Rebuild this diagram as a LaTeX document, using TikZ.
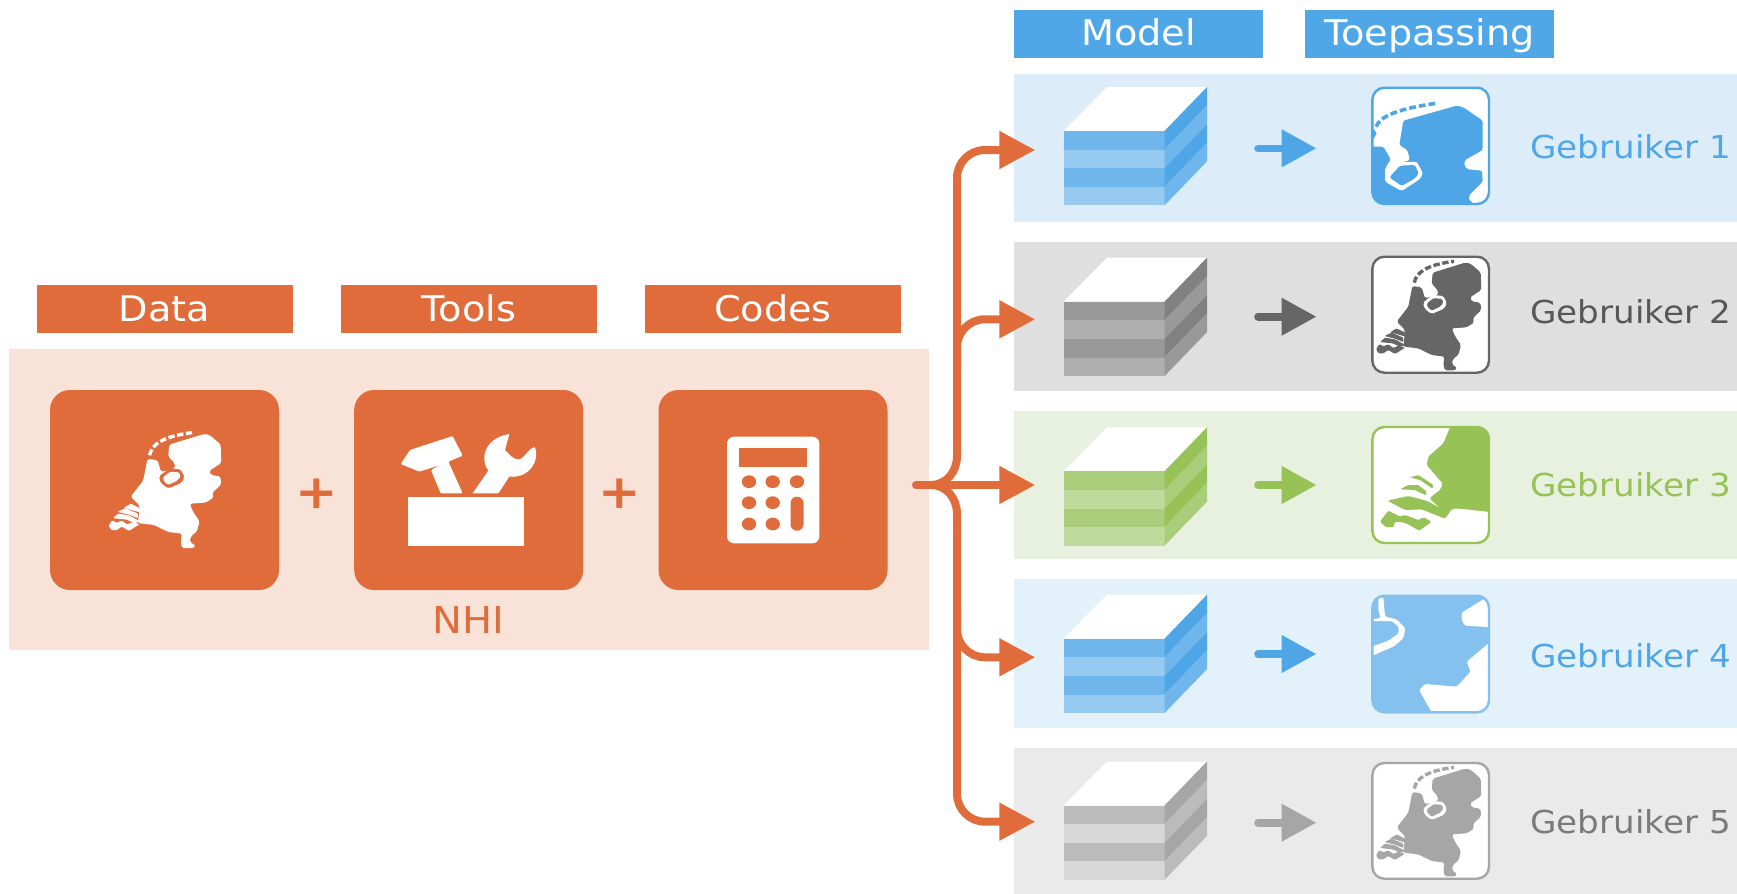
\documentclass[tikz,border=0pt]{standalone}
\usepackage{fontspec}
\setmainfont[FakeStretch=1.08]{DejaVu Sans}
\usetikzlibrary{arrows.meta}
\definecolor{org}{HTML}{E16C3B}
\definecolor{orgl}{HTML}{F9E2D8}
\definecolor{hblue}{HTML}{50A7E8}
\definecolor{rowa}{HTML}{DCEDF9}
\definecolor{rowb}{HTML}{DFDFDF}
\definecolor{rowc}{HTML}{E8F1DF}
\definecolor{rowd}{HTML}{E3F1FA}
\definecolor{rowe}{HTML}{EAEAEA}
\definecolor{bluea}{HTML}{4EA6E7}
\definecolor{blueb}{HTML}{6EB6EB}
\definecolor{bluec}{HTML}{96CAF1}
\definecolor{blued}{HTML}{84C1EF}
\definecolor{graya}{HTML}{666666}
\definecolor{grayb}{HTML}{818181}
\definecolor{grayc}{HTML}{999999}
\definecolor{grayd}{HTML}{AFAFAF}
\definecolor{graye}{HTML}{A6A6A6}
\definecolor{grayf}{HTML}{BBBBBB}
\definecolor{grayg}{HTML}{D7D7D7}
\definecolor{grna}{HTML}{96C256}
\definecolor{grnb}{HTML}{A9CD7B}
\definecolor{grnc}{HTML}{BFDB9B}
\newcommand{\cubeshape}[5]{% front top y, front1, front2, side1, side2
 \begin{scope}[shift={(0,#1)}]
  \fill[white] (1063.5,0) -- (1107,-44) -- (1207,-44) -- (1164.5,0) -- cycle;
  \fill[#2] (1063.5,0) rectangle (1164.5,18.6);
  \fill[#3] (1063.5,18.6) rectangle (1164.5,37.2);
  \fill[#2] (1063.5,37.2) rectangle (1164.5,55.8);
  \fill[#3] (1063.5,55.8) rectangle (1164.5,74.4);
  \fill[#4] (1164.5,0) -- (1207,-44) -- (1207,-25.4) -- (1164.5,18.6) -- cycle;
  \fill[#5] (1164.5,18.6) -- (1207,-25.4) -- (1207,-6.8) -- (1164.5,37.2) -- cycle;
  \fill[#4] (1164.5,37.2) -- (1207,-6.8) -- (1207,11.8) -- (1164.5,55.8) -- cycle;
  \fill[#5] (1164.5,55.8) -- (1207,11.8) -- (1207,30.4) -- (1164.5,74.4) -- cycle;
 \end{scope}}
\newcommand{\nlmap}[2]{% land, water
 \fill[#1,rounded corners=0.9pt] (248,578) -- (345,548) -- (360,550) -- (392,577) -- (394,630) -- (360,652) -- (365,664) -- (391,668) -- (394,690) -- (368,715) -- (373,727) -- (350,742) -- (305,745) -- (316,770) -- (333,795) -- (325,825) -- (310,835) -- (305,852) -- (323,865) -- (315,871) -- (284,871) -- (280,850) -- (284,830) -- (245,825) -- (205,805) -- (160,800) -- (163,775) -- (165,750) -- (140,725) -- (175,680) -- (187,618) -- (215,622) -- (225,655) -- (265,645) -- (262,628) -- (245,612) -- cycle;
 \fill[#2,rounded corners=0.9pt] (219,668) -- (248,645) -- (280,648) -- (291,670) -- (282,686) -- (245,702) -- (224,686) -- cycle;
 \fill[#1,rounded corners=0.6pt] (231,670) -- (250,655) -- (275,656) -- (280,668) -- (270,680) -- (245,692) -- (232,680) -- cycle;
 \draw[#1,line width=1.7pt,dash pattern=on 3.2pt off 1.3pt] (193,608) .. controls (198,580) and (225,555) .. (312,544);
 \fill[#1,rounded corners=0.5pt] (120,757) -- (140,745) -- (166,758) -- (166,770) -- (140,762) -- cycle;
 \fill[#1,rounded corners=0.5pt] (103,768) -- (125,758) -- (160,773) -- (160,786) -- (135,776) -- cycle;
 \fill[#1,rounded corners=0.5pt] (90,786) -- (105,773) -- (135,778) -- (168,796) -- (150,800) -- (128,790) -- cycle;
 \fill[#1,rounded corners=0.5pt] (78,808) -- (88,792) -- (100,799) -- (115,793) -- (130,804) -- (145,797) -- (165,803) -- (135,822) -- (115,810) -- (100,820) -- (86,820) -- cycle;
}
\tikzset{
 every node/.style={inner sep=0pt,outer sep=0pt},
 headerbox/.style={minimum width=128pt,minimum height=24pt,text=white,text height=12.8pt,text depth=0pt,font=\fontsize{17.7}{20}\selectfont},
 rowband/.style={minimum width=361.5pt,anchor=north west},
 iconbox/.style={fill=org,rounded corners=10pt,minimum width=114.5pt,minimum height=100pt},
 userlabel/.style={anchor=base west,font=\fontsize{15.8}{18}\selectfont},
 conn/.style={draw=org,line width=4pt,rounded corners=14pt,-{Triangle[length=18pt,width=18pt]}},
 mini/.style={line width=3.8pt,-{Triangle[length=17.5pt,width=18pt]}},
 plussign/.style={anchor=base,text=org,font=\bfseries\fontsize{23.5}{25}\selectfont},
}
\begin{document}
\begin{tikzpicture}[x=0.5pt,y=-0.5pt]
\useasboundingbox (0,0) rectangle (1737,894);
% left panel
\fill[orgl] (8.5,349) rectangle (928.5,650);
\node[headerbox,fill=org] (data) at (164.5,309) {Data};
\node[headerbox,fill=org] (tools) at (469,309) {Tools};
\node[headerbox,fill=org] (codes) at (773,309) {Codes};
\node[iconbox] (ibox1) at (164.5,490) {};
\node[iconbox] (ibox2) at (468.7,490) {};
\node[iconbox] (ibox3) at (773,490) {};
\node[plussign] (plus1) at (317,508.7) {+};
\node[plussign] (plus2) at (620,508.7) {+};
\node[anchor=base,text=org,font=\fontsize{18.5}{20}\selectfont] (nhi) at (468.5,633) {NHI};
% map icon on orange
\begin{scope}[shift={(221-393*0.3567,434-548*0.3533)},x=0.1783pt,y=-0.1767pt]
\nlmap{white}{org}
\end{scope}
% toolbox
\begin{scope}[shift={(380,410)},x=0.16667pt,y=-0.16667pt]
 \fill[white] (85,262) rectangle (433,408);
 \fill[white,rounded corners=0.6pt] (62,162) -- (90,120) -- (218,78) -- (248,137) -- (205,155) -- (248,250) -- (182,250) -- (153,180) -- (180,165) -- (118,185) -- cycle;
 \fill[white] (278,250) -- (325,182) .. controls (300,150) and (310,85) .. (388,72) -- (375,120) .. controls (390,135) and (400,150) .. (418,148) .. controls (435,145) and (445,112) .. (465,112) .. controls (480,150) and (450,205) .. (388,200) -- (355,250) -- cycle;
\end{scope}
% calculator
\fill[white,rounded corners=3.5pt] (727,436.7) rectangle (819.4,543.3);
\fill[org] (739.4,447.7) rectangle (807,466.7);
\foreach \bx/\by in {749/481.7,772.7/481.7,797/481.7,749/502.7,772.7/502.7,749/524,772.7/524}
 \fill[org] (\bx,\by) ellipse[x radius=3.6pt,y radius=3.2pt];
\fill[org,rounded corners=3.2pt] (790.5,496.7) rectangle (803.5,530.7);
% right header
\node[headerbox,fill=hblue,minimum width=124.5pt,text depth=1pt] (model) at (1138.5,33.5) {Model};
\node[headerbox,fill=hblue,minimum width=124.5pt,text depth=1pt] (toep) at (1429.5,33.5) {Toepassing};
% bands
\node[rowband,fill=rowa,minimum height=74pt] (band1) at (1014,74) {};
\node[rowband,fill=rowb,minimum height=74.5pt] (band2) at (1014,242) {};
\node[rowband,fill=rowc,minimum height=74pt] (band3) at (1014,411) {};
\node[rowband,fill=rowd,minimum height=74.5pt] (band4) at (1014,579) {};
\node[rowband,fill=rowe,minimum height=73pt] (band5) at (1014,748) {};
% cubes
\cubeshape{131}{blueb}{bluec}{bluea}{blueb}
\cubeshape{301.7}{grayc}{grayd}{grayb}{grayc}
\cubeshape{471.3}{grnb}{grnc}{grna}{grnb}
\cubeshape{638.7}{blueb}{bluec}{bluea}{blueb}
\cubeshape{805.5}{grayf}{grayg}{graye}{grayf}
% orange connectors
\coordinate (stem) at (916,485);
\coordinate (knee) at (931,485);
\coordinate (busup) at (957,456);
\coordinate (busdn) at (957,514);
\coordinate (in1) at (1035.3,150);
\coordinate (in2) at (1035.3,319.3);
\coordinate (in3) at (1035.3,485);
\coordinate (in4) at (1035.3,657.3);
\coordinate (in5) at (1035.3,821.7);
\coordinate (bra) at (957,370);
\coordinate (brb) at (957,606);
\draw[conn] (busup) -- (957,150) -- (in1);
\draw[conn] (busdn) -- (957,821.7) -- (in5);
\draw[conn] (bra) -- (957,319.3) -- (in2);
\draw[conn] (brb) -- (957,657.3) -- (in4);
\draw[conn,rounded corners=0pt] (stem) -- (in3);
\draw[line width=4pt,org,line cap=round] (stem) -- (knee);
\draw[line width=4pt,org] (knee) .. controls (946,485) and (957,472) .. (busup);
\draw[line width=4pt,org] (knee) .. controls (946,485) and (957,498) .. (busdn);
% small arrows
\foreach \n/\ay/\c in {1/148.3/bluea,2/316.7/graya,3/485/grna,4/654/bluea,5/822.7/graye}{
 \coordinate (sa\n) at (1258,\ay);
 \coordinate (sb\n) at (1316.5,\ay);
 \draw[mini,\c,line cap=round] (sa\n) -- (sb\n);
}
% cards
% card 1
\begin{scope}
 \clip[rounded corners=6pt] (1372.4,87.7) rectangle (1489,204);
 \fill[white] (1372.4,87.7) rectangle (1489,204);
 \begin{scope}[shift={(1350,80)},x=0.16667pt,y=-0.16667pt]
  \fill[bluea,rounded corners=0.8pt] (160,122) -- (320,77) -- (340,82) -- (398,122) -- (398,210) -- (345,240) -- (342,255) -- (352,268) -- (396,272) -- (398,305) -- (358,345) -- (356,360) -- (368,367) -- (380,390) -- (50,390) -- (50,200) -- (100,200) -- (122,238) -- (105,265) -- (150,250) -- (180,240) -- (172,210) -- (148,195) -- cycle;
  \fill[white,rounded corners=1.2pt] (105,265) -- (130,248) -- (200,245) -- (219,280) -- (210,297) -- (155,333) -- (105,305) -- cycle;
  \fill[bluea,rounded corners=0.8pt] (118,292) -- (150,257) -- (195,255) -- (206,280) -- (195,295) -- (155,318) -- cycle;
  \draw[bluea,line width=1.8pt,dash pattern=on 3.4pt off 1.5pt] (78,140) .. controls (90,115) and (120,90) .. (258,70);
  \fill[bluea] (60,148) -- (72,148) -- (80,160) -- (72,175) -- (60,175) -- cycle;
 \end{scope}
\end{scope}
\draw[bluea,line width=1.2pt,rounded corners=6pt] (1372.4,87.7) rectangle (1489,204);
% card 2
\fill[white,rounded corners=6pt] (1372.4,256.7) rectangle (1489,372.7);
\begin{scope}[shift={(1350,80)},x=0.16667pt,y=-0.16667pt]
 \nlmap{graya}{white}
\end{scope}
\draw[graya,line width=1.2pt,rounded corners=6pt] (1372.4,256.7) rectangle (1489,372.7);
% card 3
\begin{scope}
 \clip[rounded corners=6pt] (1372.4,427) rectangle (1489,543);
 \fill[white] (1372.4,427) rectangle (1489,543);
 \begin{scope}[shift={(1350,420)},x=0.16667pt,y=-0.16667pt]
  \fill[grna,rounded corners=0.8pt] (303,15) -- (280,70) -- (235,110) -- (230,135) -- (278,190) -- (272,208) -- (238,235) -- (270,264) -- (232,243) -- (175,228) -- (112,242) -- (165,270) -- (215,268) -- (285,296) -- (305,268) -- (320,265) -- (430,277) -- (430,15) -- cycle;
  \fill[grna,rounded corners=0.6pt] (180,172) -- (205,165) -- (250,195) -- (248,206) -- (210,180) -- cycle;
  \fill[grna,rounded corners=0.6pt] (150,208) -- (175,195) -- (205,195) -- (230,215) -- (228,226) -- (195,210) -- cycle;
  \fill[grna,rounded corners=0.6pt] (90,305) -- (115,272) -- (150,290) -- (165,285) -- (205,300) -- (220,292) -- (245,305) -- (208,332) -- (165,308) -- (135,305) -- (130,322) -- (105,320) -- cycle;
 \end{scope}
\end{scope}
\draw[grna,line width=1.2pt,rounded corners=6pt] (1372.4,427) rectangle (1489,543);
% card 4
\begin{scope}
 \clip[rounded corners=6pt] (1372.4,595.7) rectangle (1489,712.3);
 \fill[blued] (1372.4,595.7) rectangle (1489,712.3);
 \begin{scope}[shift={(1350,420)},x=0.16667pt,y=-0.16667pt]
  \fill[white,rounded corners=0.8pt] (335,578) -- (405,535) -- (430,530) -- (430,622) -- (345,617) -- (335,600) -- cycle;
  \fill[white,rounded corners=0.8pt] (430,658) -- (350,725) -- (362,755) -- (320,800) -- (225,792) -- (207,810) -- (250,885) -- (430,885) -- cycle;
  \fill[white,rounded corners=0.8pt] (60,603) -- (60,597) -- (92,595) -- (85,570) -- (85,535) -- (100,530) -- (105,590) -- (140,598) -- (166,625) -- (160,655) -- (130,680) -- (60,710) -- (60,682) -- (115,662) -- (146,640) -- (146,620) -- (125,603) -- cycle;
 \end{scope}
\end{scope}
\draw[blued,line width=1.2pt,rounded corners=6pt] (1372.4,595.7) rectangle (1489,712.3);
% card 5
\fill[white,rounded corners=6pt] (1372.4,763) rectangle (1489,878.7);
\begin{scope}[shift={(1350,586)},x=0.16667pt,y=-0.16667pt]
 \nlmap{graye}{white}
\end{scope}
\draw[graye,line width=1.2pt,rounded corners=6pt] (1372.4,763) rectangle (1489,878.7);
% labels
\node[userlabel,text=hblue] (u1) at (1530.5,158) {Gebruiker 1};
\node[userlabel,text=graya!85!black] (u2) at (1530.5,323) {Gebruiker 2};
\node[userlabel,text=grna] (u3) at (1530.5,496) {Gebruiker 3};
\node[userlabel,text=bluea] (u4) at (1530.5,667.3) {Gebruiker 4};
\node[userlabel,text=black!52] (u5) at (1530.5,833.3) {Gebruiker 5};
\end{tikzpicture}
\end{document}
